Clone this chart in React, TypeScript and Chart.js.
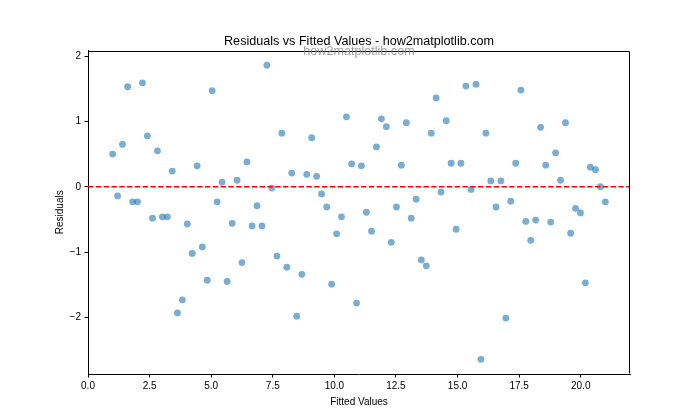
import React, { useEffect, useRef } from "react";
import { Chart, registerables } from "chart.js";

Chart.register(...registerables);

const fittedValues = [
  1.0, 1.2, 1.4, 1.61, 1.81, 2.01, 2.21, 2.41, 2.62, 2.82,
  3.02, 3.22, 3.42, 3.63, 3.83, 4.03, 4.23, 4.43, 4.64, 4.84,
  5.04, 5.24, 5.44, 5.65, 5.85, 6.05, 6.25, 6.45, 6.66, 6.86,
  7.06, 7.26, 7.46, 7.67, 7.87, 8.07, 8.27, 8.47, 8.68, 8.88,
  9.08, 9.28, 9.48, 9.69, 9.89, 10.09, 10.29, 10.49, 10.7, 10.9,
  11.1, 11.3, 11.51, 11.71, 11.91, 12.11, 12.31, 12.52, 12.72, 12.92,
  13.12, 13.32, 13.53, 13.73, 13.93, 14.13, 14.33, 14.54, 14.74, 14.94,
  15.14, 15.34, 15.55, 15.75, 15.95, 16.15, 16.35, 16.56, 16.76, 16.96,
  17.16, 17.36, 17.57, 17.77, 17.97, 18.17, 18.37, 18.58, 18.78, 18.98,
  19.18, 19.38, 19.59, 19.79, 19.99, 20.19, 20.39, 20.6, 20.8, 21.0,
];

const residuals = [
  0.5, -0.14, 0.65, 1.53, -0.23, -0.23, 1.59, 0.78, -0.48, 0.55,
  -0.46, -0.46, 0.24, -1.93, -1.73, -0.57, -1.02, 0.32, -0.92, -1.43,
  1.47, -0.23, 0.07, -1.45, -0.56, 0.1, -1.16, 0.38, -0.6, -0.29,
  -0.6, 1.86, -0.02, -1.06, 0.82, -1.23, 0.21, -1.98, -1.34, 0.19,
  0.75, 0.16, -0.11, -0.31, -1.49, -0.72, -0.46, 1.07, 0.35, -1.78,
  0.32, -0.39, -0.68, 0.61, 1.04, 0.92, -0.85, -0.31, 0.33, 0.98,
  -0.48, -0.19, -1.12, -1.21, 0.82, 1.36, -0.08, 1.01, 0.36, -0.65,
  0.36, 1.54, -0.04, 1.57, -2.64, 0.82, 0.09, -0.31, 0.09, -2.01,
  -0.22, 0.36, 1.48, -0.53, -0.82, -0.51, 0.91, 0.33, -0.54, 0.52,
  0.1, 0.98, -0.71, -0.33, -0.4, -1.47, 0.3, 0.26, 0.0, -0.23,
];

const xTicks = [0, 2.5, 5, 7.5, 10, 12.5, 15, 17.5, 20];
const yTicks = [-2, -1, 0, 1, 2];

const titleText = "Residuals vs Fitted Values - how2matplotlib.com";
const watermarkText = "how2matplotlib.com";
const xLabel = "Fitted Values";
const yLabel = "Residuals";

const FONT = "'Liberation Sans', Arial, Helvetica, sans-serif";

export default function App() {
  const ref = useRef<HTMLCanvasElement | null>(null);

  useEffect(() => {
    document.body.style.margin = "0";
    const canvas = ref.current;
    if (!canvas) return;

    const xMinD = Math.min(...fittedValues);
    const xMaxD = Math.max(...fittedValues);
    const xPad = (xMaxD - xMinD) * 0.05;
    const yMinD = Math.min(...residuals);
    const yMaxD = Math.max(...residuals);
    const yPad = (yMaxD - yMinD) * 0.05;

    const framePlugin = {
      id: "frameAndTitle",
      afterDraw(chart: any) {
        const { ctx, chartArea: a } = chart;
        ctx.save();
        ctx.strokeStyle = "#000";
        ctx.lineWidth = 1;
        const l = Math.round(a.left) + 0.5;
        const r = Math.round(a.right) - 0.5;
        const t = Math.round(a.top) + 0.5;
        const b = Math.round(a.bottom) - 0.5;
        ctx.beginPath();
        ctx.moveTo(l, t);
        ctx.lineTo(r, t);
        ctx.lineTo(r, b);
        ctx.stroke();

        const cx = (a.left + a.right) / 2;
        ctx.textAlign = "center";
        ctx.textBaseline = "alphabetic";
        ctx.fillStyle = "#000";
        ctx.font = `12.6px ${FONT}`;
        ctx.fillText(titleText, cx, 44.5);

        ctx.fillStyle = "rgba(128,128,128,0.75)";
        ctx.font = `12.6px ${FONT}`;
        ctx.fillText(watermarkText, cx, 55);
        ctx.restore();
      },
    };

    const chart = new Chart(canvas, {
      type: "scatter",
      data: {
        datasets: [
          {
            type: "line",
            label: "zero",
            data: [
              { x: xMinD - xPad, y: 0 },
              { x: xMaxD + xPad, y: 0 },
            ],
            borderColor: "#ff0000",
            borderWidth: 1.5,
            borderDash: [5.4, 2.4],
            pointRadius: 0,
            fill: false,
            order: 0,
          } as any,
          {
            label: "residuals",
            data: fittedValues.map((x, i) => ({ x, y: residuals[i] })),
            backgroundColor: "rgba(31,119,180,0.6)",
            borderColor: "rgba(31,119,180,0.6)",
            borderWidth: 0,
            pointRadius: 3.4,
            order: 1,
          },
        ],
      },
      options: {
        responsive: false,
        animation: false,
        devicePixelRatio: 1,
        layout: { padding: { top: 50.5, right: 70, bottom: 0, left: 0 } },
        plugins: {
          legend: { display: false },
          tooltip: { enabled: false },
          title: { display: false },
        },
        scales: {
          x: {
            type: "linear",
            position: "bottom",
            min: xMinD - xPad,
            max: xMaxD + xPad,
            afterFit: (s: any) => {
              s.height = 46;
            },
            afterBuildTicks: (s: any) => {
              s.ticks = xTicks.map((v) => ({ value: v }));
            },
            ticks: {
              color: "#000",
              font: { family: FONT, size: 10 },
              padding: 3,
              maxRotation: 0,
              autoSkip: false,
              callback: (v: any) => Number(v).toFixed(1),
            },
            grid: {
              drawOnChartArea: false,
              drawTicks: true,
              tickLength: 3.5,
              color: "#000",
              lineWidth: 1,
            },
            border: { display: true, color: "#000", width: 1 },
            title: {
              display: true,
              text: xLabel,
              color: "#000",
              font: { family: FONT, size: 10 },
              padding: { top: 0, bottom: 12 },
            },
          },
          y: {
            type: "linear",
            position: "left",
            min: yMinD - yPad,
            max: yMaxD + yPad,
            afterFit: (s: any) => {
              s.width = 88;
            },
            afterBuildTicks: (s: any) => {
              s.ticks = yTicks.map((v) => ({ value: v }));
            },
            ticks: {
              color: "#000",
              font: { family: FONT, size: 10 },
              padding: 3.5,
              autoSkip: false,
              callback: (v: any) => (Number(v) < 0 ? "\u2212" + Math.abs(Number(v)) : String(v)),
            },
            grid: {
              drawOnChartArea: false,
              drawTicks: true,
              tickLength: 3.5,
              color: "#000",
              lineWidth: 1,
            },
            border: { display: true, color: "#000", width: 1 },
            title: {
              display: true,
              text: yLabel,
              color: "#000",
              font: { family: FONT, size: 10 },
              padding: { top: 54, bottom: 0 },
            },
          },
        },
      },
      plugins: [framePlugin],
    });

    return () => {
      chart.destroy();
    };
  }, []);

  return (
    <div style={{ width: 700, height: 420, background: "#fff" }}>
      <canvas ref={ref} width={700} height={420} style={{ display: "block" }} />
    </div>
  );
}
